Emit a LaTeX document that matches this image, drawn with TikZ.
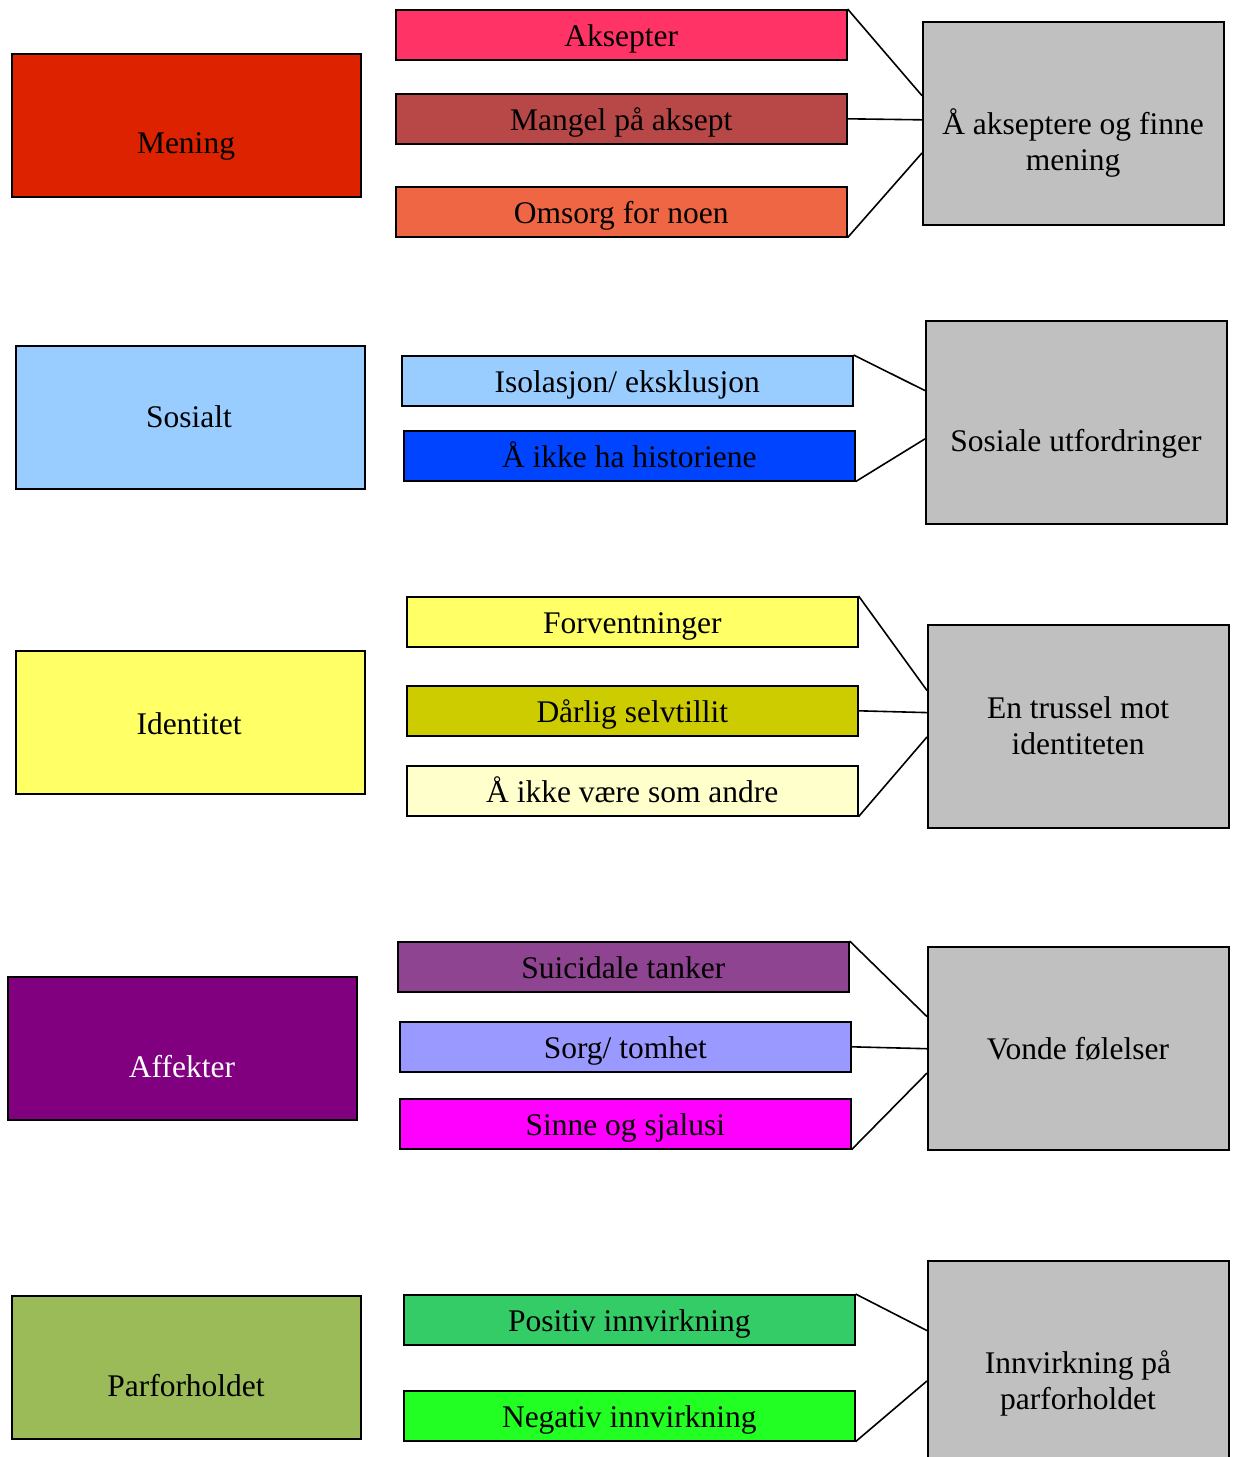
\documentclass[tikz,border=0pt]{standalone}
\usepackage{fontspec}
\setmainfont{Liberation Serif}
\usetikzlibrary{calc}
\definecolor{cMening}{HTML}{DD2200}
\definecolor{cAksepter}{HTML}{FF3366}
\definecolor{cMangel}{HTML}{B84848}
\definecolor{cOmsorg}{HTML}{EE6644}
\definecolor{cLight}{HTML}{99CCFF}
\definecolor{cBlue}{HTML}{0044FF}
\definecolor{cYel}{HTML}{FFFF66}
\definecolor{cOlive}{HTML}{CCCC00}
\definecolor{cPale}{HTML}{FFFFCC}
\definecolor{cPurple}{HTML}{800080}
\definecolor{cSuic}{HTML}{8E4490}
\definecolor{cSorg}{HTML}{9999FF}
\definecolor{cMag}{HTML}{FF00FF}
\definecolor{cPar}{HTML}{9BBB59}
\definecolor{cPos}{HTML}{33CC66}
\definecolor{cNeg}{HTML}{22FF22}
\definecolor{cGray}{HTML}{C0C0C0}
\tikzset{
  box/.style={draw=black, line width=1.6pt, anchor=north west, inner sep=0pt,
    font=\fontsize{31.5}{36}\selectfont},
  leftbox/.style={box, minimum width=349pt, minimum height=143pt},
  midbox/.style={box, minimum width=451pt, minimum height=50pt,
    text height=23.4pt, text depth=0pt},
  graybox/.style={box, fill=cGray, minimum width=301pt, minimum height=203pt},
  txt/.style={font=\fontsize{31.5}{36}\selectfont, align=center, inner sep=0pt},
  conn/.style={draw=black, line width=1.6pt}
}
\begin{document}
\begin{tikzpicture}[x=1pt,y=-1pt]
\useasboundingbox (0,0) rectangle (1234,1457);
\clip (0,0) rectangle (1234,1457);
% left boxes
\node[leftbox, fill=cMening] (mening) at (11,53) {};
\node[txt, anchor=base] (tmening) at (186,153) {Mening};
\node[leftbox, fill=cLight] (sosialt) at (15,345) {};
\node[txt, anchor=base] (tsosialt) at (189,427) {Sosialt};
\node[leftbox, fill=cYel] (identitet) at (15,650) {};
\node[txt, anchor=base] (tidentitet) at (189,734) {Identitet};
\node[leftbox, fill=cPurple] (affekter) at (7,976) {};
\node[txt, anchor=base, text=white] (taffekter) at (182,1077) {Affekter};
\node[leftbox, fill=cPar] (parforholdet) at (11,1295) {};
\node[txt, anchor=base] (tpar) at (186,1396) {Parforholdet};
% middle boxes
\node[midbox, fill=cAksepter] (aksepter) at (395,9) {Aksepter};
\node[midbox, fill=cMangel] (mangel) at (395,93) {Mangel på aksept};
\node[midbox, fill=cOmsorg] (omsorg) at (395,186) {Omsorg for noen};
\node[midbox, fill=cLight] (isolasjon) at (401,355) {Isolasjon/ eksklusjon};
\node[midbox, fill=cBlue] (historiene) at (403,430) {Å ikke ha historiene};
\node[midbox, fill=cYel] (forvent) at (406,596) {Forventninger};
\node[midbox, fill=cOlive] (darlig) at (406,685) {Dårlig selvtillit};
\node[midbox, fill=cPale] (andre) at (406,765) {Å ikke være som andre};
\node[midbox, fill=cSuic] (suic) at (397,941) {Suicidale tanker};
\node[midbox, fill=cSorg] (sorg) at (399,1021) {Sorg/ tomhet};
\node[midbox, fill=cMag] (sinne) at (399,1098) {Sinne og sjalusi};
\node[midbox, fill=cPos] (positiv) at (403,1294) {Positiv innvirkning};
\node[midbox, fill=cNeg] (negativ) at (403,1390) {Negativ innvirkning};
% gray boxes
\node[graybox] (g1) at (922,21) {};
\node[txt] (tg1) at (1073,143) {Å akseptere og finne\\mening};
\node[graybox] (g2) at (925,320) {};
\node[txt] (tg2) at (1076,444) {Sosiale utfordringer};
\node[graybox] (g3) at (927,624) {};
\node[txt] (tg3) at (1078,726) {En trussel mot\\identiteten};
\node[graybox] (g4) at (927,946) {};
\node[txt] (tg4) at (1078,1049) {Vonde følelser};
\node[graybox] (g5) at (927,1260) {};
\node[txt] (tg5) at (1078,1383) {Innvirkning på\\parforholdet};
% connectors
\draw[conn] (aksepter.north east) -- ($(g1.north west)!0.365!(g1.south west)$);
\draw[conn] (mangel.east) -- ($(g1.north west)!0.483!(g1.south west)$);
\draw[conn] (omsorg.south east) -- ($(g1.north west)!0.645!(g1.south west)$);
\draw[conn] (isolasjon.north east) -- ($(g2.north west)!0.345!(g2.south west)$);
\draw[conn] (historiene.south east) -- ($(g2.north west)!0.581!(g2.south west)$);
\draw[conn] (forvent.north east) -- ($(g3.north west)!0.325!(g3.south west)$);
\draw[conn] (darlig.east) -- ($(g3.north west)!0.433!(g3.south west)$);
\draw[conn] (andre.south east) -- ($(g3.north west)!0.552!(g3.south west)$);
\draw[conn] (suic.north east) -- ($(g4.north west)!0.345!(g4.south west)$);
\draw[conn] (sorg.east) -- ($(g4.north west)!0.502!(g4.south west)$);
\draw[conn] (sinne.south east) -- ($(g4.north west)!0.621!(g4.south west)$);
\draw[conn] (positiv.north east) -- ($(g5.north west)!0.345!(g5.south west)$);
\draw[conn] (negativ.south east) -- ($(g5.north west)!0.591!(g5.south west)$);
\end{tikzpicture}
\end{document}
